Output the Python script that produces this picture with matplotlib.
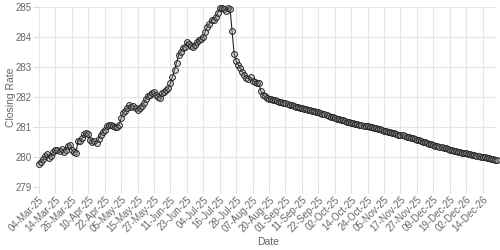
import matplotlib
matplotlib.use("Agg")
import matplotlib.pyplot as plt

# closing rate per trading day
rates_rise = [
    279.77, 279.84, 279.93, 280.02, 280.10, 279.96, 280.05, 280.18, 280.22, 280.23,
    280.20, 280.27, 280.18, 280.22, 280.38, 280.40, 280.23, 280.17, 280.14, 280.54,
    280.53, 280.65, 280.78, 280.80, 280.77, 280.57, 280.50, 280.55, 280.46, 280.60,
    280.75, 280.85, 280.90, 281.03, 281.07, 281.07, 281.03, 281.01, 281.00, 281.08,
    281.29, 281.46, 281.55, 281.65, 281.73, 281.68, 281.70, 281.62, 281.57, 281.62,
    281.70, 281.79, 281.95, 282.03, 282.07, 282.12, 282.18, 282.07, 282.00, 281.96,
    282.12, 282.18, 282.23, 282.29, 282.46, 282.68, 282.90, 283.15, 283.40, 283.51,
    283.62, 283.68, 283.84, 283.76, 283.70, 283.68, 283.74, 283.85, 283.90, 283.95,
    283.99, 284.18, 284.35, 284.45, 284.57, 284.57, 284.68, 284.80, 284.97, 284.97,
    284.92, 284.88, 284.97, 284.95, 284.20, 283.45, 283.20, 283.07, 282.96, 282.85,
    282.75, 282.65, 282.60, 282.66, 282.55, 282.50, 282.47, 282.46, 282.20, 282.08,
    282.02, 281.98,
]
rates_tail = [
    281.95, 281.93, 281.91, 281.89, 281.87, 281.85, 281.83, 281.81, 281.79, 281.77,
    281.75, 281.72, 281.70, 281.68, 281.66, 281.65, 281.63, 281.61, 281.60, 281.58,
    281.56, 281.55, 281.53, 281.51, 281.49, 281.47, 281.45, 281.42, 281.40, 281.37,
    281.34, 281.32, 281.30, 281.28, 281.26, 281.24, 281.22, 281.20, 281.18, 281.16,
    281.14, 281.12, 281.11, 281.09, 281.08, 281.06, 281.05, 281.04, 281.02, 281.01,
    280.99, 280.97, 280.96, 280.94, 280.92, 280.90, 280.88, 280.86, 280.84, 280.82,
    280.81, 280.79, 280.77, 280.75, 280.73, 280.72, 280.70, 280.68, 280.66, 280.64,
    280.62, 280.60, 280.58, 280.56, 280.53, 280.51, 280.49, 280.47, 280.45, 280.42,
    280.40, 280.38, 280.36, 280.34, 280.32, 280.30, 280.29, 280.27, 280.25, 280.23,
    280.21, 280.20, 280.18, 280.16, 280.15, 280.13, 280.12, 280.10, 280.09, 280.07,
    280.06, 280.04, 280.03, 280.01, 280.00, 279.99, 279.97, 279.96, 279.94, 279.93,
    279.91, 279.90,
]
tick_labels = [
    "04-Mar-25", "14-Mar-25", "26-Mar-25", "10-Apr-25", "22-Apr-25", "05-May-25",
    "15-May-25", "27-May-25", "11-Jun-25", "23-Jun-25", "04-Jul-25", "16-Jul-25",
    "28-Jul-25", "07-Aug-25", "20-Aug-25", "01-Sep-25", "11-Sep-25", "22-Sep-25",
    "02-Oct-25", "14-Oct-25", "24-Oct-25", "05-Nov-25", "17-Nov-25", "27-Nov-25",
    "09-Dec-25", "19-Dec-25", "02-Dec-26", "14-Dec-26",
]
tick_step = 8

rates = rates_rise + rates_tail
x = list(range(len(rates)))

plt.rcParams['font.family'] = ['Liberation Sans', 'DejaVu Sans']

fig = plt.figure(figsize=(5, 2.5), dpi=100)
ax = fig.add_axes([0.078, 0.252, 0.916, 0.72])

ax.plot(x, rates, color='#222222', linewidth=0.8, marker='o', markersize=4.2,
        markerfacecolor=(0.6, 0.6, 0.6, 0.35), markeredgecolor='#222222',
        markeredgewidth=0.7, clip_on=False, zorder=3)

ax.set_xlim(0, len(rates) - 1)
ax.set_ylim(279, 285)
ax.set_xticks(list(range(0, tick_step * len(tick_labels), tick_step)))
ax.set_xticklabels(tick_labels, rotation=45, ha='right', rotation_mode='anchor')
ax.set_yticks([279, 280, 281, 282, 283, 284, 285])

ax.grid(True, color='#e6e6e6', linewidth=0.8)
ax.set_axisbelow(True)
for s in ax.spines.values():
    s.set_visible(False)
ax.tick_params(axis='both', colors='#666666', labelsize=7, length=4,
               width=0.8, pad=1.5)
ax.tick_params(axis='both', color='#dddddd')

ax.set_xlabel('Date', fontsize=7.5, color='#666666', labelpad=2)
ax.set_ylabel('Closing Rate', fontsize=7.5, color='#666666')
ax.yaxis.set_label_coords(-0.05, 0.5)

fig.savefig('out.png', dpi=100)
